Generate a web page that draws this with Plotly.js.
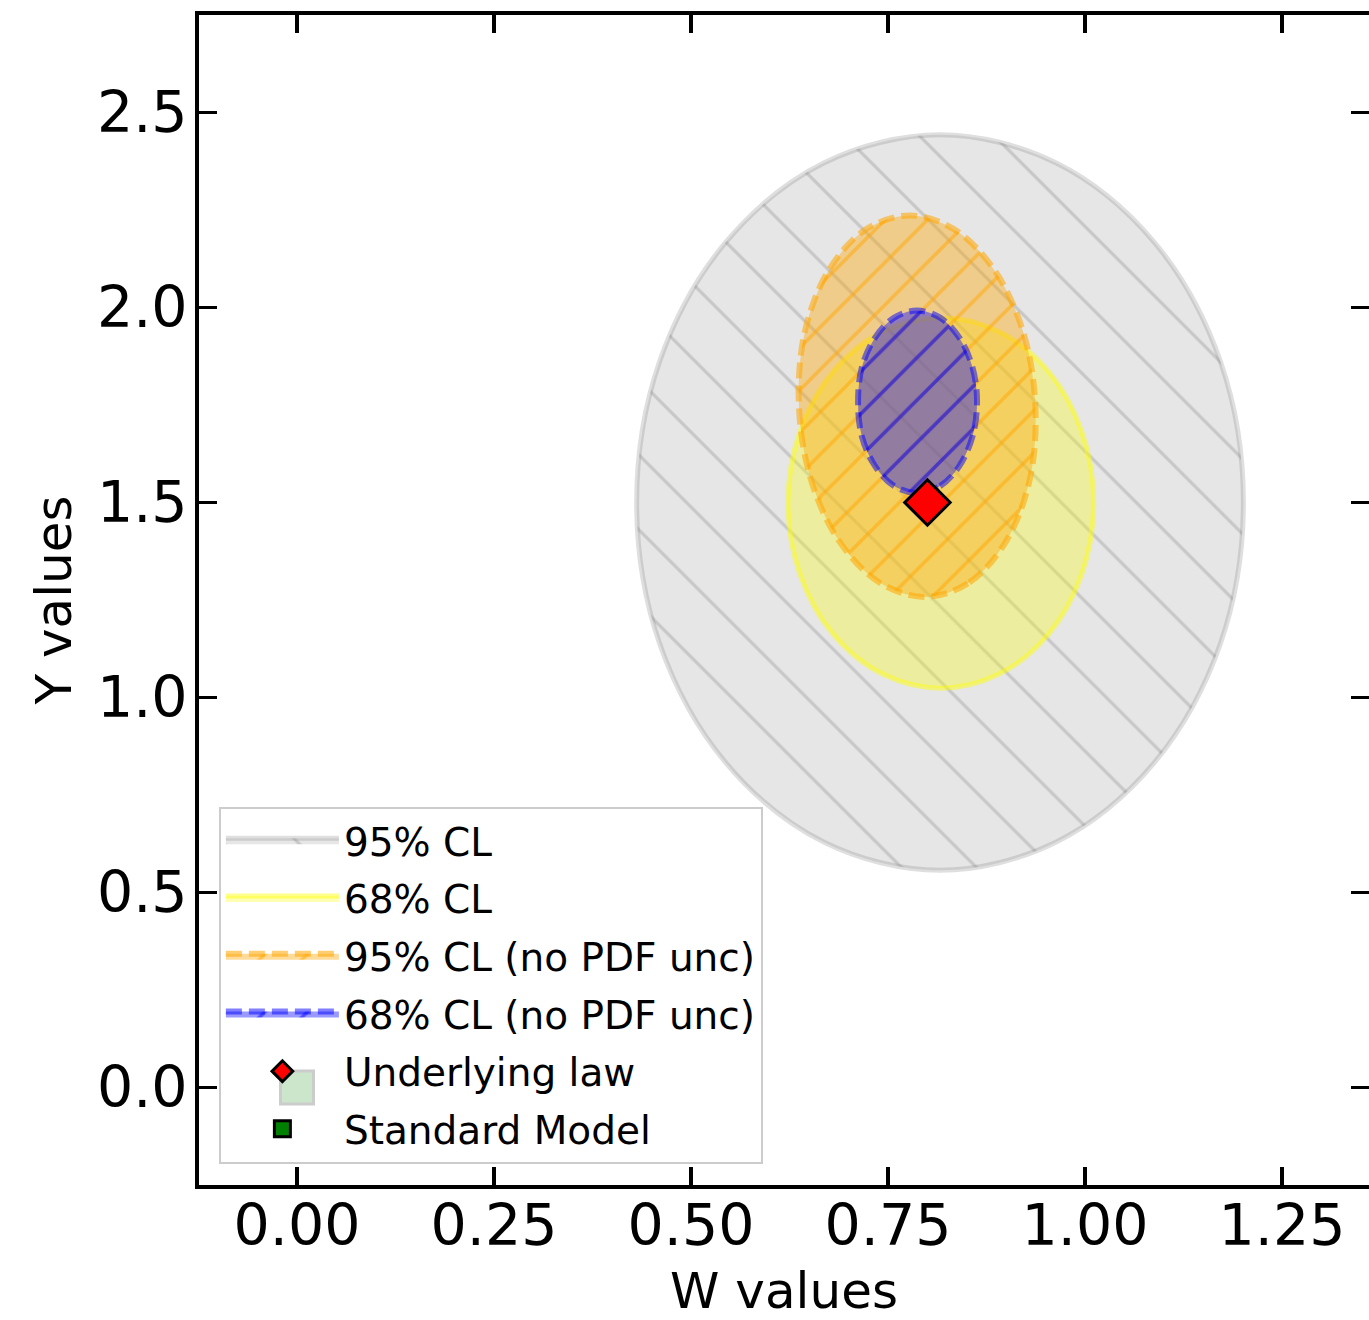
<!DOCTYPE html>
<html>
<head>
<meta charset="utf-8">
<script src="https://cdn.plot.ly/plotly-3.0.1.min.js"></script>
<style>html,body{margin:0;padding:0;background:#fff;overflow:hidden}</style>
</head>
<body>
<div id="chart" style="width:1369px;height:1320px"></div>
<script>
// Contour boundaries (W, Y)
const cl95_w = [0.816, 0.963, 1.088, 1.172, 1.201, 1.172, 1.088, 0.963, 0.816, 0.669, 0.544, 0.460, 0.431, 0.460, 0.544, 0.669];
const cl95_y = [0.557, 0.629, 0.833, 1.139, 1.500, 1.861, 2.167, 2.371, 2.443, 2.371, 2.167, 1.861, 1.500, 1.139, 0.833, 0.629];

const cl68_w = [0.817, 0.891, 0.954, 0.996, 1.011, 0.996, 0.954, 0.891, 0.817, 0.743, 0.680, 0.638, 0.623, 0.638, 0.680, 0.743];
const cl68_y = [1.024, 1.060, 1.163, 1.317, 1.499, 1.681, 1.835, 1.938, 1.974, 1.938, 1.835, 1.681, 1.499, 1.317, 1.163, 1.060];

const noPdf95_w = [0.797, 0.853, 0.900, 0.930, 0.937, 0.922, 0.886, 0.835, 0.778, 0.721, 0.674, 0.644, 0.637, 0.652, 0.688, 0.739];
const noPdf95_y = [1.258, 1.295, 1.401, 1.560, 1.747, 1.934, 2.093, 2.199, 2.236, 2.199, 2.093, 1.934, 1.747, 1.560, 1.401, 1.295];

const noPdf68_w = [0.787, 0.816, 0.840, 0.857, 0.863, 0.857, 0.840, 0.816, 0.787, 0.758, 0.734, 0.717, 0.712, 0.717, 0.734, 0.758];
const noPdf68_y = [1.524, 1.542, 1.592, 1.668, 1.758, 1.848, 1.924, 1.974, 1.992, 1.974, 1.924, 1.848, 1.758, 1.668, 1.592, 1.542];

const lawW = [0.8];
const lawY = [1.5];
const smW = [0.0];
const smY = [0.0];

const seriesNames = ['95% CL', '68% CL', '95% CL (no PDF unc)', '68% CL (no PDF unc)', 'Underlying law', 'Standard Model'];

const xTickVals = [0, 0.25, 0.5, 0.75, 1.0, 1.25];
const xTickText = ['0.00', '0.25', '0.50', '0.75', '1.00', '1.25'];
const yTickVals = [0, 0.5, 1.0, 1.5, 2.0, 2.5];
const yTickText = ['0.0', '0.5', '1.0', '1.5', '2.0', '2.5'];

function closed(a) { return a.concat([a[0]]); }

const FONT = 'DejaVu Sans, Verdana, sans-serif';

function region(w, y, name, group, fill, line, dash, lw, pat) {
  return {
    type: 'scatter', mode: 'lines', name: name, legendgroup: group,
    x: closed(w), y: closed(y), fill: 'toself', fillcolor: fill,
    line: {color: line, width: lw, dash: dash, shape: 'spline', smoothing: 1},
    fillpattern: pat, hoverinfo: 'skip'
  };
}

const traces = [
  region(cl95_w, cl95_y, seriesNames[0], 'g1', 'rgba(128,128,128,0.2)', 'rgba(128,128,128,0.25)', 'solid', 5,
    {shape: '\\', size: 53, solidity: 0.06, fillmode: 'overlay', bgcolor: 'rgba(128,128,128,0.2)', fgcolor: 'rgb(128,128,128)', fgopacity: 0.3}),
  region(cl68_w, cl68_y, seriesNames[1], 'g2', 'rgba(255,255,0,0.3)', 'rgba(255,255,0,0.45)', 'solid', 5, undefined),
  region(noPdf95_w, noPdf95_y, seriesNames[2], 'g3', 'rgba(255,165,0,0.4)', 'rgba(255,165,0,0.55)', '16px,7px', 6,
    {shape: '/', size: 30, solidity: 0.12, fillmode: 'overlay', bgcolor: 'rgba(255,165,0,0.4)', fgcolor: 'rgb(255,165,0)', fgopacity: 0.5}),
  region(noPdf68_w, noPdf68_y, seriesNames[3], 'g4', 'rgba(0,0,255,0.4)', 'rgba(0,0,255,0.5)', '16px,7px', 6,
    {shape: '/', size: 30, solidity: 0.12, fillmode: 'overlay', bgcolor: 'rgba(0,0,255,0.4)', fgcolor: 'rgb(0,0,255)', fgopacity: 0.5}),
  {type: 'scatter', mode: 'markers', name: seriesNames[4], legendgroup: 'g5', x: lawW, y: lawY,
   marker: {symbol: 'diamond', size: 35, color: 'red', line: {color: 'black', width: 3}}},
  {type: 'scatter', mode: 'markers', name: seriesNames[5], legendgroup: 'g6', x: smW, y: smY,
   marker: {symbol: 'square', size: 33, color: 'green', line: {color: 'black', width: 3}}}
];

const axisCommon = {
  showline: true, linewidth: 4, linecolor: 'black', mirror: 'allticks',
  ticks: 'inside', ticklen: 18, tickwidth: 3.5, tickcolor: 'black',
  showgrid: false, zeroline: false, tickmode: 'array',
  tickfont: {family: FONT, size: 57, color: 'black'}
};

const layout = {
  width: 1369, height: 1320,
  margin: {l: 199, r: 0, t: 15, b: 135},
  paper_bgcolor: 'white', plot_bgcolor: 'white',
  font: {family: FONT, color: 'black'},
  showlegend: true,
  xaxis: Object.assign({}, axisCommon, {
    range: [-0.1244, 1.3604], tickvals: xTickVals, ticktext: xTickText,
    ticklabelstandoff: -12,
    title: {text: 'W values', font: {family: FONT, size: 50, color: 'black'}, standoff: 20}
  }),
  yaxis: Object.assign({}, axisCommon, {
    range: [-0.25, 2.75], tickvals: yTickVals, ticktext: yTickText,
    ticklabelstandoff: -4,
    title: {text: 'Y values', font: {family: FONT, size: 50, color: 'black'}, standoff: 10}
  }),
  legend: {
    x: 0.017, y: 0.3235, xanchor: 'left', yanchor: 'top',
    bgcolor: 'rgba(255,255,255,0.8)', bordercolor: '#cccccc', borderwidth: 2,
    font: {family: FONT, size: 39, color: 'black'},
    itemwidth: 113, tracegroupgap: 4, traceorder: 'grouped', itemsizing: 'trace'
  }
};

Plotly.newPlot('chart', traces, layout, {displayModeBar: false, staticPlot: true});
</script>
</body>
</html>
